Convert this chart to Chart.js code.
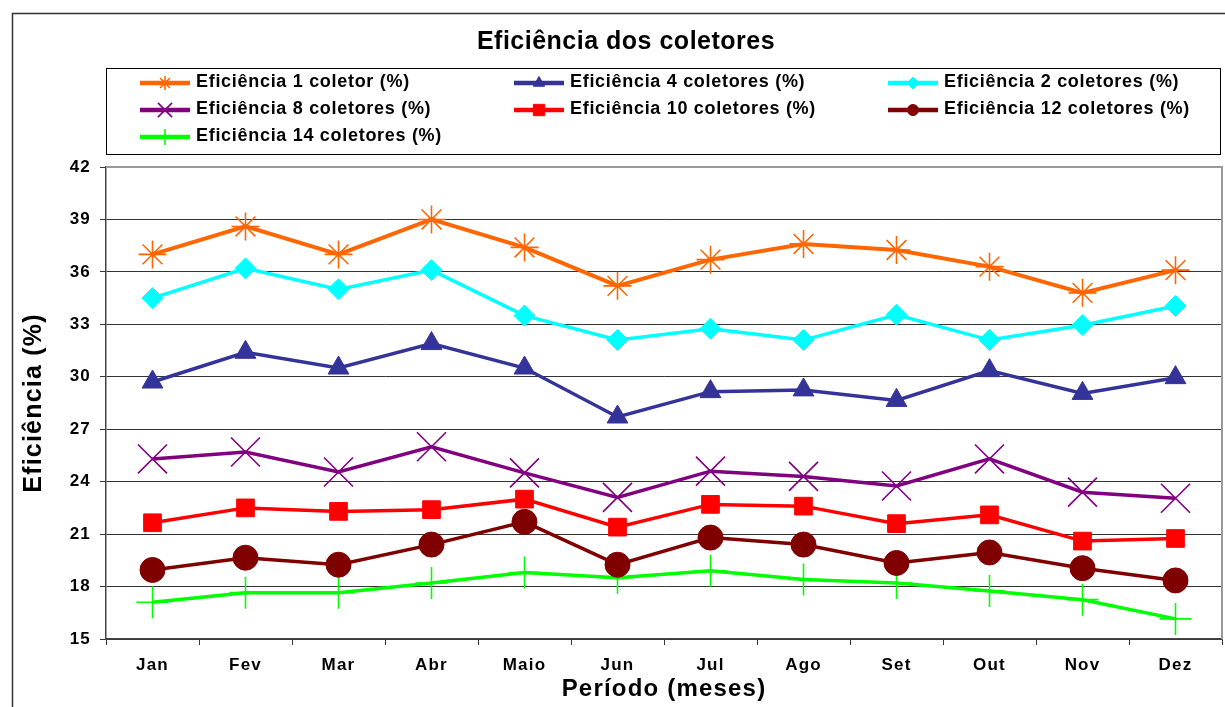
<!DOCTYPE html>
<html>
<head>
<meta charset="utf-8">
<title>Eficiência dos coletores</title>
<script src="https://cdn.jsdelivr.net/npm/chart.js@4.4.1/dist/chart.umd.min.js"></script>
<style>
  html, body { margin: 0; padding: 0; background: #ffffff; }
  #wrap { width: 1225px; height: 707px; }
</style>
</head>
<body>
<div id="wrap"><canvas id="c" width="1225" height="707"></canvas></div>
<script>
// Monthly collector efficiency (%), one array per installation size
const months = ['Jan', 'Fev', 'Mar', 'Abr', 'Maio', 'Jun', 'Jul', 'Ago', 'Set', 'Out', 'Nov', 'Dez'];

const ef1  = [37.0, 38.6, 37.0, 39.0, 37.4, 35.2, 36.7, 37.6, 37.25, 36.3, 34.8, 36.1];
const ef4  = [29.7, 31.4, 30.5, 31.9, 30.5, 27.7, 29.15, 29.25, 28.65, 30.35, 29.05, 29.95];
const ef2  = [34.5, 36.2, 35.0, 36.1, 33.5, 32.1, 32.75, 32.1, 33.55, 32.1, 32.95, 34.05];
const ef8  = [25.3, 25.7, 24.55, 26.0, 24.5, 23.1, 24.6, 24.3, 23.75, 25.3, 23.4, 23.05];
const ef10 = [21.65, 22.5, 22.3, 22.4, 23.0, 21.4, 22.7, 22.6, 21.6, 22.1, 20.6, 20.75];
const ef12 = [18.95, 19.65, 19.25, 20.4, 21.7, 19.25, 20.8, 20.4, 19.35, 19.95, 19.05, 18.35];
const ef14 = [17.1, 17.65, 17.65, 18.2, 18.8, 18.5, 18.9, 18.4, 18.2, 17.75, 17.25, 16.15];

const seriesLabels = [
  'Eficiência 1 coletor (%)',
  'Eficiência 4 coletores (%)',
  'Eficiência 2 coletores (%)',
  'Eficiência 8 coletores (%)',
  'Eficiência 10 coletores (%)',
  'Eficiência 12 coletores (%)',
  'Eficiência 14 coletores (%)'
];

const chartTitle = 'Eficiência dos coletores';
const yAxisTitle = 'Eficiência (%)';
const xAxisTitle = 'Período (meses)';
const yMin = 15, yMax = 42, yStep = 3;

const FONT = "'Liberation Sans', Arial, Helvetica, sans-serif";
Chart.defaults.font.family = FONT;
Chart.defaults.color = '#000000';

function series(label, data, color, style, radius, lineWidth, legendRadius, hollow) {
  return {
    label: label,
    data: data,
    borderColor: color,
    backgroundColor: color,
    borderWidth: lineWidth,
    tension: 0,
    fill: false,
    pointStyle: style,
    pointRadius: radius,
    pointHoverRadius: radius,
    pointBorderColor: color,
    pointBackgroundColor: hollow ? 'rgba(0,0,0,0)' : color,
    pointBorderWidth: hollow ? 1.6 : 1,
    legendRadius: legendRadius
  };
}

const datasets = [
  series(seriesLabels[0], ef1,  '#FF6600', 'star',     14,   4,   7, true),
  series(seriesLabels[1], ef4,  '#333399', 'triangle', 12,   3.5, 6.5, false),
  series(seriesLabels[2], ef2,  '#00FFFF', 'rectRot',  10.5, 3.5, 6, false),
  series(seriesLabels[3], ef8,  '#800080', 'crossRot', 20.5, 3.5, 10, true),
  series(seriesLabels[4], ef10, '#FF0000', 'rect',     12.5, 3.5, 8, false),
  series(seriesLabels[5], ef12, '#800000', 'circle',   12.5, 3.5, 5.5, false),
  series(seriesLabels[6], ef14, '#00FF00', 'cross',    16,   3.5, 8, true)
];

// Frame, boxed legend and heading drawn around the plot
const decorations = {
  id: 'decorations',
  beforeDraw(chart) {
    const ctx = chart.ctx;
    ctx.save();
    ctx.fillStyle = '#ffffff';
    ctx.fillRect(0, 0, chart.width, chart.height);
    ctx.strokeStyle = '#333333';
    ctx.lineWidth = 1.5;
    ctx.strokeRect(12.5, 13.5, chart.width + 40, chart.height + 40);
    ctx.restore();
    ctx.letterSpacing = '1.2px';
  },
  beforeDatasetsDraw(chart) {
    const ctx = chart.ctx;
    const a = chart.chartArea;
    ctx.save();
    ctx.strokeStyle = '#9a9a9a';
    ctx.lineWidth = 2;
    ctx.beginPath();
    ctx.moveTo(a.left, a.top);
    ctx.lineTo(a.right, a.top);
    ctx.lineTo(a.right, a.bottom);
    ctx.stroke();
    ctx.restore();
  },
  afterDraw(chart) {
    const ctx = chart.ctx;
    ctx.save();
    // heading
    ctx.letterSpacing = '0.5px';
    ctx.fillStyle = '#000000';
    ctx.font = 'bold 25px ' + FONT;
    ctx.textAlign = 'center';
    ctx.textBaseline = 'middle';
    ctx.fillText(chartTitle, 626, 42);

    // legend box
    ctx.strokeStyle = '#000000';
    ctx.lineWidth = 1;
    ctx.strokeRect(106.5, 68.5, 1114, 86);

    const cols = [140, 514, 888];
    const rows = [82, 109, 136];
    ctx.font = 'bold 18px ' + FONT;
    ctx.letterSpacing = '0.7px';
    ctx.textAlign = 'left';
    chart.data.datasets.forEach((ds, i) => {
      const x = cols[i % 3];
      const y = rows[Math.floor(i / 3)];
      ctx.save();
      ctx.strokeStyle = ds.borderColor;
      ctx.lineWidth = 4.5;
      ctx.beginPath();
      ctx.moveTo(x, y + 1);
      ctx.lineTo(x + 50, y + 1);
      ctx.stroke();
      ctx.strokeStyle = ds.pointBorderColor;
      ctx.fillStyle = ds.pointBackgroundColor;
      ctx.lineWidth = ds.pointBorderWidth;
      Chart.helpers.drawPoint(ctx, {
        pointStyle: ds.pointStyle,
        radius: ds.legendRadius,
        borderWidth: ds.pointBorderWidth,
        rotation: 0
      }, x + 25, y + 1);
      ctx.restore();
      ctx.fillStyle = '#000000';
      ctx.fillText(ds.label, x + 56, y);
    });
    ctx.restore();
    ctx.letterSpacing = '0px';
  }
};

new Chart(document.getElementById('c'), {
  type: 'line',
  data: { labels: months, datasets: datasets },
  options: {
    responsive: false,
    animation: false,
    events: [],
    layout: {
      autoPadding: false,
      padding: { left: 12, top: 167, right: 3, bottom: 0 }
    },
    plugins: {
      legend: { display: false },
      title: { display: false },
      tooltip: { enabled: false }
    },
    scales: {
      x: {
        type: 'category',
        offset: true,
        grid: {
          offset: true,
          drawOnChartArea: false,
          drawTicks: true,
          tickLength: 6,
          color: '#333333'
        },
        border: { color: '#444444', width: 1.5 },
        ticks: {
          font: { size: 17, weight: 'bold' },
          padding: 10,
          maxRotation: 0,
          autoSkip: false
        },
        title: {
          display: true,
          text: xAxisTitle,
          font: { size: 24, weight: 'bold' },
          padding: { top: 0, bottom: 3.6 }
        },
        afterFit(scale) { scale.height = 68; }
      },
      y: {
        min: yMin,
        max: yMax,
        grid: {
          color: '#333333',
          lineWidth: 1,
          drawTicks: true,
          tickLength: 6
        },
        border: { color: '#444444', width: 1.5 },
        ticks: {
          stepSize: yStep,
          font: { size: 17, weight: 'bold' },
          padding: 9
        },
        title: {
          display: true,
          text: yAxisTitle,
          font: { size: 25, weight: 'bold' },
          padding: { top: 7, bottom: 0 }
        },
        afterFit(scale) { scale.width = 94; }
      }
    }
  },
  plugins: [decorations]
});
</script>
</body>
</html>
